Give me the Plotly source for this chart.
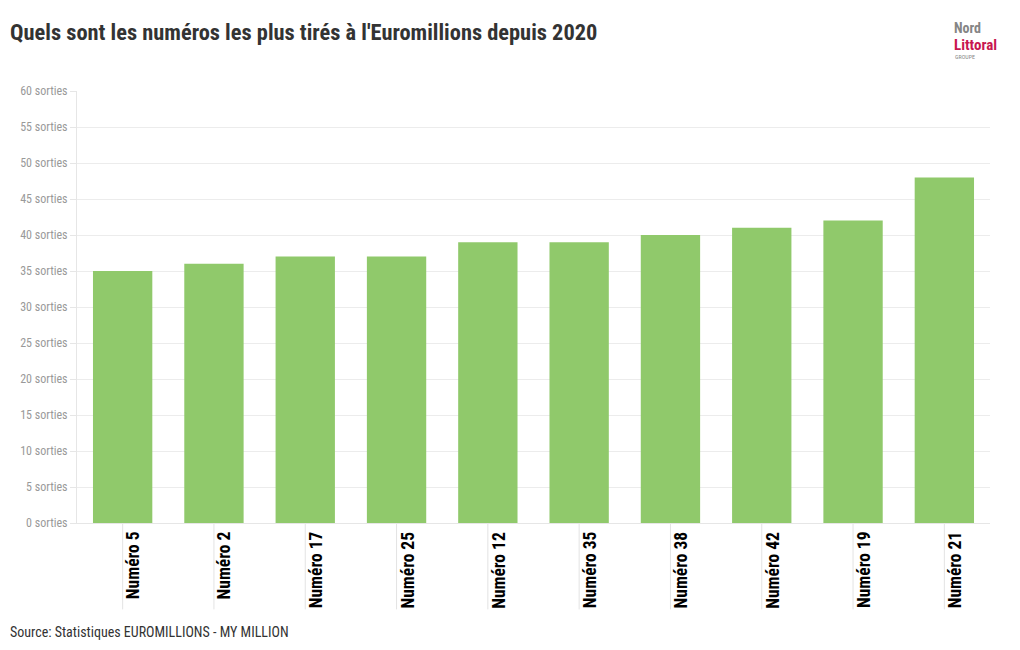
import plotly.graph_objects as go

numeros = ["Numéro 5", "Numéro 2", "Numéro 17", "Numéro 25", "Numéro 12",
           "Numéro 35", "Numéro 38", "Numéro 42", "Numéro 19", "Numéro 21"]
sorties = [35, 36, 37, 37, 39, 39, 40, 41, 42, 48]
y_ticks = list(range(0, 61, 5))
y_labels = [f"{v} sorties" for v in y_ticks]

FONT = "Roboto Condensed, Liberation Sans Narrow, Roboto, sans-serif"

fig = go.Figure()
fig.add_trace(go.Bar(
    x=numeros, y=sorties, marker_color="#90c96b", marker_line_width=0,
    hovertemplate="%{x}: %{y} sorties<extra></extra>",
))

# traits verticaux + étiquettes de catégories (décalées à droite du trait)
for n in numeros:
    fig.add_shape(type="line", xref="x", yref="paper", x0=n, x1=n,
                  y0=0, y1=-0.2, line=dict(color="#e3e3e3", width=1), layer="below")
    fig.add_annotation(text=f"<b>{n}</b>", xref="x", yref="paper", x=n, y=-0.015,
                       xanchor="center", yanchor="top", textangle=-90, xshift=11,
                       showarrow=False, font=dict(size=17.5, color="#000", family=FONT))

fig.update_layout(
    width=1020, height=650,
    paper_bgcolor="white", plot_bgcolor="white",
    margin=dict(l=67, r=38, t=83, b=135),
    bargap=0.35, showlegend=False,
    font=dict(family=FONT, color="#333"),
    title=dict(text="<b>Quels sont les numéros les plus tirés à l'Euromillions depuis 2020</b>",
               x=0.002, xanchor="left", y=0.963, yanchor="middle",
               font=dict(size=22.4, color="#333", family=FONT)),
    xaxis=dict(showgrid=False, showline=True, linecolor="#e6e6e6", ticks="",
               showticklabels=False),
    yaxis=dict(range=[0, 60], tickvals=y_ticks, ticktext=y_labels,
               gridcolor="#ececec", showline=True, linecolor="#e6e6e6",
               ticks="outside", ticklen=6, tickcolor="#e6e6e6", zeroline=False,
               tickfont=dict(size=12, color="#999", family=FONT)),
)

fig.add_annotation(text="Source: Statistiques EUROMILLIONS - MY MILLION",
                   xref="paper", yref="paper", x=-0.0755, y=-0.253,
                   xanchor="left", yanchor="middle", showarrow=False,
                   font=dict(size=14, color="#333", family=FONT))

# logo
fig.add_annotation(text="<b>Nord</b>", xref="paper", yref="paper", x=0.9585, y=1.146,
                   xanchor="left", yanchor="middle", showarrow=False,
                   font=dict(size=14, color="#858585", family=FONT))
fig.add_annotation(text="<b>Littoral</b>", xref="paper", yref="paper", x=0.9585, y=1.107,
                   xanchor="left", yanchor="middle", showarrow=False,
                   font=dict(size=15, color="#c8174f", family=FONT))
fig.add_annotation(text="GROUPE", xref="paper", yref="paper", x=0.9596, y=1.079,
                   xanchor="left", yanchor="middle", showarrow=False,
                   font=dict(size=6, color="#888", family=FONT))

fig.write_html("out.html")
